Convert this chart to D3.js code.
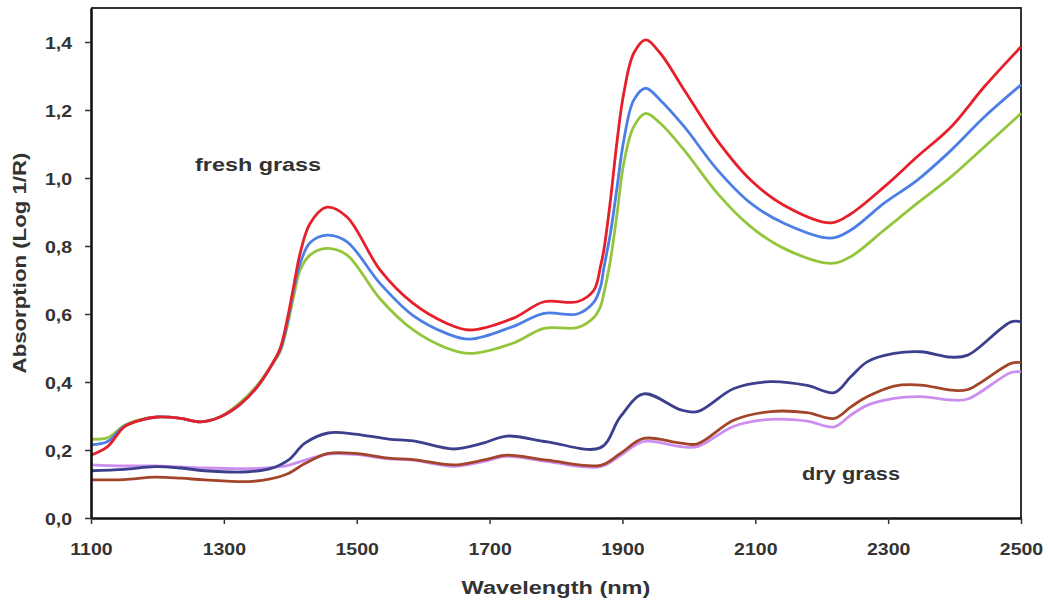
<!DOCTYPE html>
<html>
<head>
<meta charset="utf-8">
<script src="https://cdn.jsdelivr.net/npm/d3@7"></script>
<style>
  body { margin: 0; background: #fff; }
  text { font-family: "Liberation Sans", Arial, sans-serif; font-weight: bold; fill: #333; }
</style>
</head>
<body>
<div id="viz"></div>
<script>
// wavelengths (nm) sampled along the fresh grass spectra
var freshWl = [1100, 1125, 1150, 1175, 1200, 1235, 1265, 1295, 1325, 1350, 1372, 1385, 1395, 1405, 1415,
  1430, 1455, 1485, 1535, 1585, 1635, 1670, 1735, 1782, 1832, 1857, 1867, 1872, 1882, 1892, 1902,
  1917, 1935, 1957, 1993, 2043, 2093, 2143, 2214, 2244, 2294, 2344, 2395, 2445, 2500];
var freshRed = [0.185, 0.21, 0.268, 0.288, 0.297, 0.293, 0.283, 0.298, 0.335, 0.385, 0.45, 0.50, 0.58, 0.68, 0.78,
  0.867, 0.914, 0.886, 0.73, 0.631, 0.573, 0.553, 0.587, 0.636, 0.636, 0.67, 0.74, 0.788, 0.935, 1.11, 1.249,
  1.367, 1.406, 1.367, 1.259, 1.11, 0.994, 0.92, 0.868, 0.895, 0.974, 1.063, 1.151, 1.269, 1.386];
var freshBlue = [0.215, 0.225, 0.27, 0.288, 0.297, 0.293, 0.283, 0.298, 0.335, 0.385, 0.45, 0.495, 0.57, 0.67, 0.75,
  0.81, 0.832, 0.813, 0.69, 0.595, 0.543, 0.526, 0.563, 0.602, 0.600, 0.635, 0.68, 0.735, 0.838, 0.974, 1.11,
  1.229, 1.264, 1.229, 1.151, 1.024, 0.926, 0.867, 0.823, 0.847, 0.926, 0.994, 1.082, 1.18, 1.274];
var freshGreen = [0.232, 0.236, 0.272, 0.29, 0.297, 0.293, 0.283, 0.298, 0.34, 0.39, 0.45, 0.49, 0.56, 0.65, 0.73,
  0.774, 0.793, 0.774, 0.645, 0.553, 0.50, 0.484, 0.514, 0.558, 0.56, 0.59, 0.622, 0.66, 0.759, 0.896, 1.043,
  1.151, 1.19, 1.161, 1.082, 0.955, 0.857, 0.793, 0.749, 0.769, 0.847, 0.926, 1.004, 1.092, 1.19];

// wavelengths (nm) sampled along the dry grass spectra
var dryWl = [1100, 1150, 1196, 1235, 1271, 1337, 1370, 1397, 1422, 1457, 1497, 1548, 1585, 1646, 1690,
  1726, 1787, 1867, 1897, 1932, 1988, 2013, 2068, 2123, 2178, 2219, 2244, 2269, 2309, 2349, 2395, 2420, 2485, 2500];
var dryNavy = [0.139, 0.143, 0.151, 0.147, 0.139, 0.136, 0.145, 0.17, 0.22, 0.25, 0.247, 0.232, 0.227, 0.203, 0.22,
  0.241, 0.224, 0.207, 0.298, 0.365, 0.318, 0.313, 0.381, 0.401, 0.39, 0.369, 0.416, 0.46, 0.484, 0.489, 0.473, 0.479, 0.577, 0.577];
var dryBrown = [0.112, 0.113, 0.12, 0.117, 0.112, 0.107, 0.115, 0.131, 0.16, 0.19, 0.19, 0.176, 0.172, 0.156, 0.17,
  0.185, 0.17, 0.155, 0.19, 0.234, 0.22, 0.218, 0.288, 0.313, 0.31, 0.293, 0.327, 0.357, 0.388, 0.391, 0.376, 0.378, 0.455, 0.457];
var dryViolet = [0.156, 0.153, 0.153, 0.15, 0.147, 0.145, 0.148, 0.155, 0.17, 0.188, 0.187, 0.174, 0.17, 0.152, 0.166,
  0.181, 0.166, 0.151, 0.184, 0.225, 0.21, 0.21, 0.27, 0.29, 0.285, 0.268, 0.303, 0.332, 0.352, 0.357, 0.347, 0.35, 0.428, 0.43];

var xTicks = [1100, 1300, 1500, 1700, 1900, 2100, 2300, 2500];
var yTicks = [0, 0.2, 0.4, 0.6, 0.8, 1.0, 1.2, 1.4];

// drawn back to front
var series = [
  { wl: dryWl, values: dryViolet, color: "#cc8ff0" },
  { wl: dryWl, values: dryBrown, color: "#a3452a" },
  { wl: dryWl, values: dryNavy, color: "#3b3f8c" },
  { wl: freshWl, values: freshGreen, color: "#93c63c" },
  { wl: freshWl, values: freshBlue, color: "#4c7fe6" },
  { wl: freshWl, values: freshRed, color: "#e61f2b" }
];

var width = 1048, height = 603;
var margin = { top: 8, right: 27, bottom: 85, left: 91 };

var x = d3.scaleLinear().domain([1100, 2500]).range([margin.left, width - margin.right]);
var y = d3.scaleLinear().domain([0, 1.5]).range([height - margin.bottom, margin.top]);

var svg = d3.select("#viz").append("svg")
  .attr("width", width)
  .attr("height", height);

// frame (top + right)
svg.append("path")
  .attr("d", "M" + x(1100) + "," + y(1.5) + "H" + x(2500) + "V" + y(0))
  .attr("fill", "none")
  .attr("stroke", "#333")
  .attr("stroke-width", 2);

var line = d3.line()
  .x(function(d) { return x(d[0]); })
  .y(function(d) { return y(d[1]); })
  .curve(d3.curveCatmullRom.alpha(0.5));

series.forEach(function(s) {
  var pts = s.wl.map(function(w, i) { return [w, s.values[i]]; });
  svg.append("path")
    .attr("d", line(pts))
    .attr("fill", "none")
    .attr("stroke", s.color)
    .attr("stroke-width", 2.8)
    .attr("stroke-linejoin", "round");
});

var fmt = function(d) { return d3.format(".1f")(d).replace(".", ","); };

var xAxis = svg.append("g")
  .attr("transform", "translate(0," + y(0) + ")")
  .call(d3.axisBottom(x).tickValues(xTicks).tickSize(6).tickSizeOuter(0).tickFormat(d3.format("d")));
xAxis.select(".domain").attr("stroke", "#111").attr("stroke-width", 2.6);
xAxis.selectAll(".tick line").attr("stroke", "#333").attr("stroke-width", 1.5);
xAxis.selectAll(".tick text")
  .attr("y", 26)
  .attr("font-size", 16)
  .attr("fill", "#333")
  .attr("transform", "scale(1.22,1)");

var yAxis = svg.append("g")
  .attr("transform", "translate(" + x(1100) + ",0)")
  .call(d3.axisLeft(y).tickValues(yTicks).tickSize(6).tickSizeOuter(0).tickFormat(fmt));
yAxis.select(".domain").attr("stroke", "#111").attr("stroke-width", 2.6);
yAxis.selectAll(".tick line").attr("stroke", "#333").attr("stroke-width", 1.5);
yAxis.selectAll(".tick text")
  .attr("x", -15.5)
  .attr("dy", "0.4em")
  .attr("font-size", 16)
  .attr("fill", "#333")
  .attr("transform", "scale(1.22,1)");

// axis titles
svg.append("text")
  .attr("transform", "translate(" + ((x(1100) + x(2500)) / 2) + ",594) scale(1.24,1)")
  .attr("text-anchor", "middle")
  .attr("font-size", 19)
  .attr("fill", "#222")
  .text("Wavelength (nm)");

svg.append("text")
  .attr("transform", "translate(26," + ((y(0) + y(1.5)) / 2) + ") rotate(-90) scale(1.17,1)")
  .attr("text-anchor", "middle")
  .attr("font-size", 19)
  .attr("fill", "#222")
  .text("Absorption (Log 1/R)");

// group labels
svg.append("text")
  .attr("transform", "translate(195,171) scale(1.3,1)")
  .attr("font-size", 18)
  .attr("fill", "#222")
  .text("fresh grass");

svg.append("text")
  .attr("transform", "translate(802,480) scale(1.21,1)")
  .attr("font-size", 18)
  .attr("fill", "#222")
  .text("dry grass");
</script>
</body>
</html>
